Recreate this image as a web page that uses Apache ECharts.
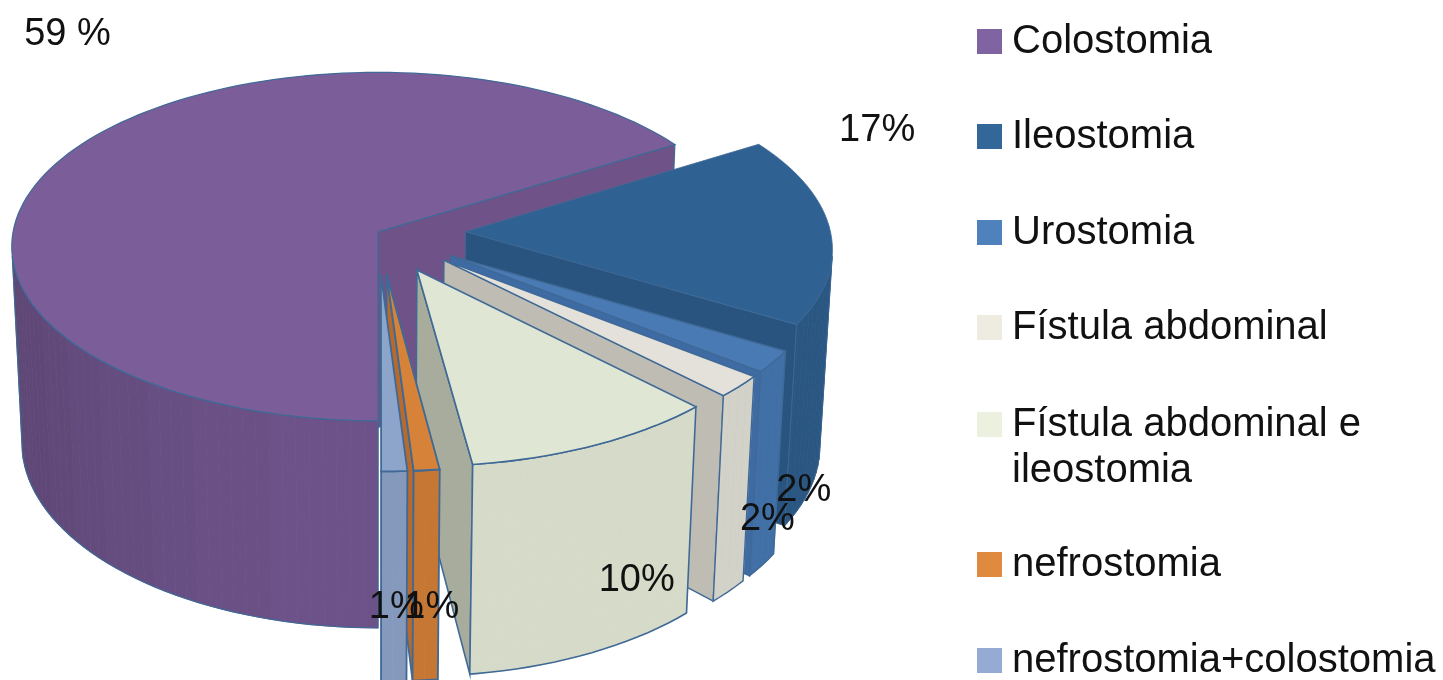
<!DOCTYPE html>
<html><head><meta charset="utf-8">
<style>html,body{margin:0;padding:0;background:#fff;overflow:hidden}#c{width:1443px;height:680px}</style>
<script src="https://cdn.jsdelivr.net/npm/echarts@6/dist/echarts.min.js"></script>
</head><body><div id="c"></div>
<script>
// ---- data ----
const categories = ['Colostomia','Ileostomia','Urostomia','Fístula abdominal','Fístula abdominal e\nileostomia','nefrostomia','nefrostomia+colostomia'];
const values = [59,17,2,2,10,1,1];
const valueLabels = ['59 %','17%','2%','2%','10%','1%','1%'];
// the labels add up to 92 and do not fill the circle: in the picture the small
// slices are sized on a base of about 97.5 and the first slice takes whatever is left
const sizeBase = 97.5;

// ---- styles and layout ----
const legendColors = ['#8064A2','#336699','#4F81BD','#EEECE1','#EBF1DE','#E08A3F','#95ABD4'];
const topColors    = ['#7B5E99','#2F6192','#4A7AB4','#E3E1D9','#DFE6D3','#D68238','#8EA5CB'];
const wallColors   = ['#6C5288','#2A5682','#4170A6','#D3D2C8','#D6DAC8','#C67733','#8499BC'];
const cutColors    = ['#6F5388','#2A5480','#3F6BA4','#BFBCB4','#A7AC9C','#B8692C','#8EA5CB'];
const edgeWidths   = [1.2,.8,1.4,1.4,1.6,1.8,1.8];
const explodes     = [0,.24,.24,.24,.24,.24,.24];
const labelNudges  = [[-4,-117],[47,-100],[30,129],[28,133],[41,135],[5,137],[2,136]];
const legendCenters = [41,136,232,327,424,564,660];
const edge = '#3F6996';
const cx = 378, cy = 232, tilt = 28.3*Math.PI/180, camDist = 10.5, focal = 3832, depth = .625;
const S = Math.sin(tilt), C = Math.cos(tilt);

function project(X,Y,Z){
  const zc = camDist - Y*C - Z*S;
  return [cx + focal*X/zc, cy + focal*(Y*S - Z*C)/zc];
}
// slice sweep in degrees, clockwise from the back, ending at the front point
const smallTotal = values.slice(1).reduce((a,b)=>a+b,0);
const spans = values.map((v,i)=> i===0 ? 360-smallTotal/sizeBase*360 : v/sizeBase*360);
const ranges = []; { let a = 180; spans.forEach(s=>{ ranges.push([a,a+s]); a += s; }); }

function shade(hex,f){
  const n = parseInt(hex.slice(1),16);
  const ch = s => Math.round(Math.min(255,((n>>s)&255)*f));
  return 'rgb('+ch(16)+','+ch(8)+','+ch(0)+')';
}
function sliceGeom(i){
  const [a0,a1] = ranges[i], mid = (a0+a1)/2*Math.PI/180, e = explodes[i];
  const ox = Math.sin(mid)*e, oy = -Math.cos(mid)*e;
  const rim = (deg,Z)=>{ const t = deg*Math.PI/180; return project(ox+Math.sin(t),oy-Math.cos(t),Z); };
  return {a0,a1,mid,ox,oy,rim,apex:Z=>project(ox,oy,Z)};
}
function poly(points,fill,stroke,lw){
  return {type:'polygon',shape:{points},style:{fill:fill,stroke:stroke||fill,lineWidth:lw==null?1:lw}};
}
function renderSlice(i){
  const g = sliceGeom(i), kids = [], lw = edgeWidths[i];
  [[g.a0,-1],[g.a1,1]].forEach(([deg,sgn])=>{
    const t = deg*Math.PI/180;
    const nx = sgn*Math.cos(t), ny = sgn*Math.sin(t);
    if (nx*(0-g.ox)+ny*(camDist*C-g.oy) > 0.01)
      kids.push(poly([g.apex(0),g.rim(deg,0),g.rim(deg,-depth),g.apex(-depth)],cutColors[i],edge,lw));
  });
  const degs = [];
  for (let d=g.a0; d<g.a1; d+=2) degs.push(d);
  degs.push(g.a1);
  const visible = deg=>{
    const t = deg*Math.PI/180, nX = Math.sin(t), nY = -Math.cos(t);
    return nX*(0-(g.ox+nX)) + nY*(camDist*C-(g.oy+nY)) > 0;
  };
  const front = degs.filter(visible);
  const bandFor = d=>{
    const t = d*Math.PI/180, s = Math.sin(t);
    const k = s<0 ? s*s : 0;
    return shade(wallColors[i], 1-Math.round(k*7)*.02);
  };
  for (let k=0;k<front.length-1;k++){
    const c = bandFor((front[k]+front[k+1])/2);
    kids.push(poly([g.rim(front[k],0),g.rim(front[k+1],0),g.rim(front[k+1],-depth),g.rim(front[k],-depth)],c,c,.8));
  }
  if (front.length>1){
    const up = front.map(d=>g.rim(d,0)), down = front.map(d=>g.rim(d,-depth)).reverse();
    kids.push({type:'polygon',shape:{points:up.concat(down)},style:{fill:'none',stroke:edge,lineWidth:lw}});
  }
  const top = [g.apex(0)];
  degs.forEach(d=>top.push(g.rim(d,0)));
  kids.push(poly(top,topColors[i],edge,lw));
  return {type:'group',children:kids};
}
function renderLabel(params,api){
  const i = params.dataIndex, g = sliceGeom(i);
  const [x,y] = project(g.ox+Math.sin(g.mid),g.oy-Math.cos(g.mid),0);
  return {type:'text',z2:100,style:{text:valueLabels[i],x:x+labelNudges[i][0],y:y+labelNudges[i][1],
    align:'center',verticalAlign:'middle',fill:'#111',font:'38px "Liberation Sans"'}};
}
const sliceSeries = categories.map((name,i)=>({
  type:'custom',name,coordinateSystem:'none',silent:true,animation:false,
  itemStyle:{color:legendColors[i]},data:[values[i]],clip:false,
  renderItem:()=>renderSlice(i)
}));
const labelSeries = {type:'custom',name:'labels',coordinateSystem:'none',silent:true,animation:false,
  data:values.slice(),renderItem:renderLabel,z:5};
const rowH = 46;
const legends = categories.map((name,i)=>{
  const two = name.indexOf('\n')>=0;
  return {show:true,data:[name],orient:'vertical',left:977,top:legendCenters[i]-(two?rowH*1.5:rowH/2)-3,padding:0,
    itemWidth:25,itemHeight:25,itemGap:0,selectedMode:false,icon:'rect',
    formatter:n=>two?'\n'+n:n,
    textStyle:{fontFamily:'"Liberation Sans"',fontSize:40,color:'#111',lineHeight:rowH,padding:[7,0,0,5]}};
});
const chart = echarts.init(document.getElementById('c'),null,{renderer:'canvas'});
chart.setOption({animation:false,backgroundColor:'#fff',legend:legends,series:sliceSeries.concat([labelSeries])});
</script></body></html>
